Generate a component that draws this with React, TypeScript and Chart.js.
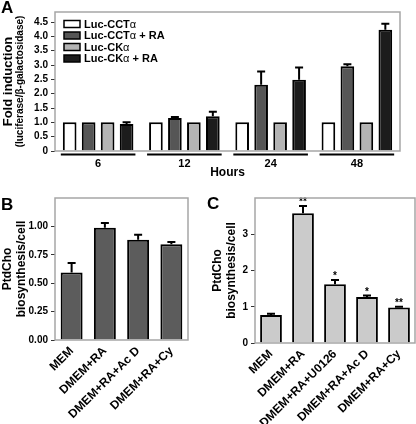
import React, { useEffect, useRef } from "react";
import { Chart, registerables } from "chart.js";
Chart.register(...registerables);

const FONT = "'Liberation Sans', Arial, Helvetica, sans-serif";

// ---------- Panel A data ----------
const hourLabels = ["6", "12", "24", "48"];
const seriesNamesA = ["Luc-CCTα", "Luc-CCTα + RA", "Luc-CKα", "Luc-CKα + RA"];
const cctValues = [1.0, 1.0, 1.0, 1.0];
const cctErrors = [0, 0, 0, 0];
const cctRAValues = [1.0, 1.15, 2.31, 2.96];
const cctRAErrors = [0, 0.04, 0.46, 0.07];
const ckValues = [1.0, 1.0, 1.0, 1.0];
const ckErrors = [0, 0, 0, 0];
const ckRAValues = [0.94, 1.21, 2.49, 4.23];
const ckRAErrors = [0.06, 0.16, 0.42, 0.21];
const colorsA = ["#ffffff", "#565656", "#b4b4b4", "#1c1c1c"];
const yTicksA = [0, 0.5, 1.0, 1.5, 2.0, 2.5, 3.0, 3.5, 4.0, 4.5];

// ---------- Panel B data ----------
const groupsB = ["MEM", "DMEM+RA", "DMEM+RA+Ac D", "DMEM+RA+Cy"];
const valuesB = [0.595, 0.988, 0.883, 0.843];
const errorsB = [0.082, 0.041, 0.044, 0.02];
const yTicksB = [0, 0.25, 0.5, 0.75, 1.0];

// ---------- Panel C data ----------
const groupsC = ["MEM", "DMEM+RA", "DMEM+RA+U0126", "DMEM+RA+Ac D", "DMEM+RA+Cy"];
const valuesC = [0.77, 3.58, 1.62, 1.27, 0.98];
const errorsC = [0.04, 0.2, 0.12, 0.04, 0.02];
const starsC = ["", "**", "*", "*", "**"];
const yTicksC = [0, 1, 2, 3];

type TitleLine = { text: string; x: number; font: string };

function drawRich(ctx: CanvasRenderingContext2D, text: string, x: number, y: number, size: number) {
  const parts = text.split("α");
  let cx = x;
  parts.forEach((p, i) => {
    ctx.font = `bold ${size}px ${FONT}`;
    ctx.fillText(p, cx, y);
    cx += ctx.measureText(p).width;
    if (i < parts.length - 1) {
      ctx.font = `${size}px ${FONT}`;
      ctx.fillText("α", cx, y);
      cx += ctx.measureText("α").width;
    }
  });
}

function makeDecor(o: {
  label: string;
  labelX: number;
  labelY: number;
  titles: TitleLine[];
  errors: number[][];
  stars?: string[];
  legend?: string[];
  groups?: boolean;
}) {
  return {
    id: "decor" + o.label,
    afterDraw(chart: any) {
      const ctx: CanvasRenderingContext2D = chart.ctx;
      const ca = chart.chartArea;
      const ys = chart.scales.y;
      ctx.save();
      // error bars
      ctx.strokeStyle = "#000";
      ctx.lineWidth = 2;
      o.errors.forEach((errs, di) => {
        const meta = chart.getDatasetMeta(di);
        const vals = chart.data.datasets[di].data as number[];
        errs.forEach((e, j) => {
          if (!e) return;
          const bar = meta.data[j];
          const top = ys.getPixelForValue(vals[j] + e);
          const yb = ys.getPixelForValue(vals[j]);
          ctx.beginPath();
          ctx.moveTo(bar.x, yb);
          ctx.lineTo(bar.x, top);
          ctx.moveTo(bar.x - 4, top);
          ctx.lineTo(bar.x + 4, top);
          ctx.stroke();
          if (o.stars && o.stars[j]) {
            ctx.fillStyle = "#000";
            ctx.font = `bold 10px ${FONT}`;
            ctx.textAlign = "center";
            ctx.textBaseline = "alphabetic";
            ctx.fillText(o.stars[j], bar.x, top - 1);
          }
        });
      });
      // frame
      ctx.strokeStyle = "#a6a6a6";
      ctx.lineWidth = 1.5;
      ctx.strokeRect(ca.left, ca.top, ca.right - ca.left, ca.bottom - ca.top);
      // panel label
      ctx.fillStyle = "#000";
      ctx.font = `bold 17px ${FONT}`;
      ctx.textAlign = "left";
      ctx.textBaseline = "alphabetic";
      ctx.fillText(o.label, o.labelX, o.labelY);
      // y titles
      const cy = (ca.top + ca.bottom) / 2;
      o.titles.forEach((t) => {
        ctx.save();
        ctx.translate(t.x, cy);
        ctx.rotate(-Math.PI / 2);
        ctx.font = t.font;
        ctx.textAlign = "center";
        ctx.textBaseline = "middle";
        ctx.fillText(t.text, 0, 0);
        ctx.restore();
      });
      // legend
      if (o.legend) {
        const rows = [24, 35.5, 47, 58.5];
        o.legend.forEach((name, i) => {
          const ds = chart.data.datasets[i];
          ctx.fillStyle = ds.backgroundColor;
          ctx.fillRect(ca.left + 9, rows[i] - 3.5, 16, 7);
          ctx.strokeStyle = "#000";
          ctx.lineWidth = 1.5;
          ctx.strokeRect(ca.left + 9, rows[i] - 3.5, 16, 7);
          ctx.fillStyle = "#000";
          ctx.textAlign = "left";
          ctx.textBaseline = "middle";
          drawRich(ctx, name, ca.left + 29, rows[i] + 0.5, 11);
        });
      }
      // group lines and hour labels
      if (o.groups) {
        const n = chart.data.datasets.length;
        const m0 = chart.getDatasetMeta(0);
        const mN = chart.getDatasetMeta(n - 1);
        chart.data.labels.forEach((lab: string, j: number) => {
          const b0 = m0.data[j];
          const bN = mN.data[j];
          const l = b0.x - b0.width / 2 - 2;
          const r = bN.x + bN.width / 2 + 2;
          ctx.strokeStyle = "#000";
          ctx.lineWidth = 2;
          ctx.beginPath();
          ctx.moveTo(l, ca.bottom + 3.5);
          ctx.lineTo(r, ca.bottom + 3.5);
          ctx.stroke();
          ctx.fillStyle = "#000";
          ctx.font = `bold 11px ${FONT}`;
          ctx.textAlign = "center";
          ctx.textBaseline = "middle";
          ctx.fillText(lab, (l + r) / 2, ca.bottom + 13);
        });
        ctx.font = `bold 12px ${FONT}`;
        ctx.textAlign = "center";
        ctx.textBaseline = "middle";
        ctx.fillText("Hours", (ca.left + ca.right) / 2, ca.bottom + 22);
      }
      ctx.restore();
    },
  };
}

function yScale(ticks: number[], max: number, fmt: (v: number) => string, width: number) {
  return {
    min: 0,
    max,
    afterBuildTicks: (s: any) => {
      s.ticks = ticks.map((v) => ({ value: v }));
    },
    afterFit: (s: any) => {
      s.width = width;
    },
    border: { display: false },
    grid: { drawOnChartArea: false, drawTicks: true, tickLength: 4, color: "#333", lineWidth: 1 },
    ticks: {
      padding: 3,
      color: "#000",
      font: { family: FONT, size: 10, weight: "bold" as const },
      callback: (v: any) => fmt(Number(v)),
    },
  };
}

function rotatedX(height: number) {
  return {
    afterFit: (s: any) => {
      s.height = height;
    },
    border: { display: false },
    grid: { display: false, drawTicks: false },
    ticks: {
      autoSkip: false,
      maxRotation: 45,
      minRotation: 45,
      padding: 4,
      color: "#000",
      font: { family: FONT, size: 12, weight: "bold" as const },
    },
  };
}

export default function App() {
  const refA = useRef<HTMLCanvasElement>(null);
  const refB = useRef<HTMLCanvasElement>(null);
  const refC = useRef<HTMLCanvasElement>(null);

  useEffect(() => {
    const charts: Chart[] = [];
    const valsA = [cctValues, cctRAValues, ckValues, ckRAValues];
    const chartA = new Chart(refA.current!, {
      type: "bar",
      data: {
        labels: hourLabels,
        datasets: valsA.map((v, i) => ({
          label: seriesNamesA[i],
          data: v,
          backgroundColor: colorsA[i],
          borderColor: "#000",
          borderWidth: 2,
          categoryPercentage: 0.88,
          barPercentage: 0.72,
        })),
      },
      options: {
        responsive: false,
        animation: false,
        layout: { padding: { top: 12, right: 16, left: 0, bottom: 0 } },
        plugins: { legend: { display: false }, tooltip: { enabled: false } },
        scales: {
          x: {
            afterFit: (s: any) => {
              s.height = 37;
            },
            border: { display: false },
            grid: { display: false },
            ticks: { display: false },
          },
          y: yScale(yTicksA, 4.85, (v) => (v === 0 ? "0" : v.toFixed(1)), 55) as any,
        },
      } as any,
      plugins: [
        makeDecor({
          label: "A",
          labelX: 1,
          labelY: 13,
          titles: [
            { text: "Fold induction", x: 8, font: `bold 13px ${FONT}` },
            { text: "(luciferase/β-galactosidase)", x: 20, font: `bold 10px ${FONT}` },
          ],
          errors: [cctErrors, cctRAErrors, ckErrors, ckRAErrors],
          legend: seriesNamesA,
          groups: true,
        }),
      ],
    });
    charts.push(chartA);

    const chartB = new Chart(refB.current!, {
      type: "bar",
      data: {
        labels: groupsB,
        datasets: [
          {
            data: valuesB,
            backgroundColor: "#5c5c5c",
            borderColor: "#000",
            borderWidth: 2,
            categoryPercentage: 1,
            barPercentage: 0.66,
          },
        ],
      },
      options: {
        responsive: false,
        animation: false,
        layout: { padding: { top: 10, right: 12, left: 0, bottom: 0 } },
        plugins: { legend: { display: false }, tooltip: { enabled: false } },
        scales: {
          x: rotatedX(84) as any,
          y: yScale(yTicksB, 1.25, (v) => v.toFixed(2), 55) as any,
        },
      } as any,
      plugins: [
        makeDecor({
          label: "B",
          labelX: 1,
          labelY: 22,
          titles: [
            { text: "PtdCho", x: 8, font: `bold 12px ${FONT}` },
            { text: "biosynthesis/cell", x: 22, font: `bold 12px ${FONT}` },
          ],
          errors: [errorsB],
        }),
      ],
    });
    charts.push(chartB);

    const chartC = new Chart(refC.current!, {
      type: "bar",
      data: {
        labels: groupsC,
        datasets: [
          {
            data: valuesC,
            backgroundColor: "#cbcbcb",
            borderColor: "#000",
            borderWidth: 2,
            categoryPercentage: 1,
            barPercentage: 0.68,
          },
        ],
      },
      options: {
        responsive: false,
        animation: false,
        layout: { padding: { top: 10, right: 1, left: 0, bottom: 0 } },
        plugins: { legend: { display: false }, tooltip: { enabled: false } },
        scales: {
          x: rotatedX(81) as any,
          y: yScale(yTicksC, 4, (v) => String(v), 55) as any,
        },
      } as any,
      plugins: [
        makeDecor({
          label: "C",
          labelX: 7,
          labelY: 21,
          titles: [
            { text: "PtdCho", x: 18, font: `bold 12px ${FONT}` },
            { text: "biosynthesis/cell", x: 32, font: `bold 12px ${FONT}` },
          ],
          errors: [errorsC],
          stars: starsC,
        }),
      ],
    });
    charts.push(chartC);

    return () => charts.forEach((c) => c.destroy());
  }, []);

  return (
    <div style={{ position: "absolute", left: 0, top: 0, width: 416, height: 424, background: "#fff" }}>
      <canvas ref={refA} width={416} height={188} style={{ position: "absolute", left: 0, top: 0 }} />
      <canvas ref={refB} width={200} height={236} style={{ position: "absolute", left: 0, top: 188 }} />
      <canvas ref={refC} width={216} height={236} style={{ position: "absolute", left: 200, top: 188 }} />
    </div>
  );
}
